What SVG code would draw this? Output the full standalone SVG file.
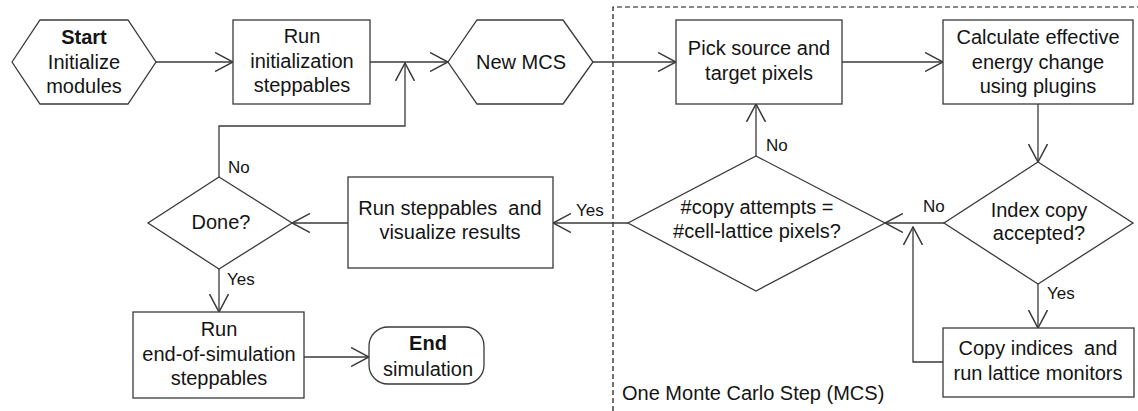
<svg xmlns="http://www.w3.org/2000/svg" width="1138" height="411" viewBox="0 0 1138 411">
<defs>
<style>
.s{fill:#fff;stroke:#3a3a3a;stroke-width:1.3}
.t{font-family:"Liberation Sans",Arial,sans-serif;font-size:20px;fill:#141414;text-anchor:middle}
.b{font-weight:bold}
.l{font-family:"Liberation Sans",Arial,sans-serif;font-size:17px;fill:#141414}
.c{fill:none;stroke:#3a3a3a;stroke-width:1.3;marker-end:url(#a)}
.d{fill:none;stroke:#111;stroke-width:1.2;stroke-dasharray:5 3}
</style>
<marker id="a" markerUnits="userSpaceOnUse" viewBox="0 0 19 20" refX="18" refY="10" markerWidth="19" markerHeight="20" orient="auto">
<path d="M0,0.5 L18,10 L0,19.5" fill="none" stroke="#3a3a3a" stroke-width="1.5"/>
</marker>
</defs>
<rect width="1138" height="411" fill="#fff"/>
<g id="region">
<path class="d" d="M613,411 V7 H1138"/>
<text class="l" x="622" y="400" style="font-size:20px">One Monte Carlo Step (MCS)</text>
</g>
<g id="connectors">
<path class="c" d="M156,62 H233"/>
<path class="c" d="M370,62 H448"/>
<path class="c" d="M593,62 H676"/>
<path class="c" d="M842,62 H943"/>
<path class="c" d="M1038,104 V162"/>
<path class="c" d="M944,223 H885"/>
<path class="c" d="M1038,284 V328"/>
<path class="c" d="M943,362 H913 V227"/>
<path class="c" d="M756,156 V104"/>
<path class="c" d="M628,223 H553"/>
<path class="c" d="M348,223 H292"/>
<path class="c" d="M219,177 V126 H405 V63"/>
<path class="c" d="M219,269 V312"/>
<path class="c" d="M304,357 H369"/>
<text class="l" x="228" y="173">No</text>
<text class="l" x="227" y="285">Yes</text>
<text class="l" x="576" y="216">Yes</text>
<text class="l" x="766" y="151">No</text>
<text class="l" x="923" y="212">No</text>
<text class="l" x="1047" y="299">Yes</text>
</g>
<g id="start">
<polygon class="s" points="12,62 40,20 128,20 156,62 128,104 40,104"/>
<text class="t b" x="84" y="44">Start</text>
<text class="t" x="84" y="69">Initialize</text>
<text class="t" x="84" y="93">modules</text>
</g>
<g id="runInit">
<rect class="s" x="233" y="20" width="137" height="84"/>
<text class="t" x="302" y="43">Run</text>
<text class="t" x="302" y="68">initialization</text>
<text class="t" x="302" y="92">steppables</text>
</g>
<g id="newMCS">
<polygon class="s" points="448,62 477,20 563,20 593,62 563,104 477,104"/>
<text class="t" x="521" y="69">New MCS</text>
</g>
<g id="pick">
<rect class="s" x="676" y="20" width="166" height="84"/>
<text class="t" x="759" y="55">Pick source and</text>
<text class="t" x="759" y="80">target pixels</text>
</g>
<g id="calc">
<rect class="s" x="943" y="20" width="190" height="84"/>
<text class="t" x="1038" y="44">Calculate effective</text>
<text class="t" x="1038" y="69">energy change</text>
<text class="t" x="1038" y="93">using plugins</text>
</g>
<g id="indexCopy">
<polygon class="s" points="1038,162 1133,223 1038,284 944,223"/>
<text class="t" x="1039" y="217">Index copy</text>
<text class="t" x="1039" y="240">accepted?</text>
</g>
<g id="copyIndices">
<rect class="s" x="943" y="328" width="191" height="69"/>
<text class="t" x="1038" y="355" xml:space="preserve">Copy indices  and</text>
<text class="t" x="1038" y="380">run lattice monitors</text>
</g>
<g id="copyAttempts">
<polygon class="s" points="756,156 885,223 756,291 628,223"/>
<text class="t" x="757" y="214">#copy attempts =</text>
<text class="t" x="757" y="238">#cell-lattice pixels?</text>
</g>
<g id="runSteppables">
<rect class="s" x="348" y="177" width="205" height="91"/>
<text class="t" x="450" y="215" xml:space="preserve">Run steppables  and</text>
<text class="t" x="450" y="239">visualize results</text>
</g>
<g id="done">
<polygon class="s" points="219,177 292,223 219,269 148,223"/>
<text class="t" x="221" y="229">Done?</text>
</g>
<g id="runEnd">
<rect class="s" x="133" y="312" width="171" height="86"/>
<text class="t" x="219" y="336">Run</text>
<text class="t" x="219" y="361">end-of-simulation</text>
<text class="t" x="219" y="385">steppables</text>
</g>
<g id="end">
<rect class="s" x="369" y="327" width="115" height="57" rx="19"/>
<text class="t b" x="428" y="350">End</text>
<text class="t" x="428" y="376">simulation</text>
</g>
</svg>
